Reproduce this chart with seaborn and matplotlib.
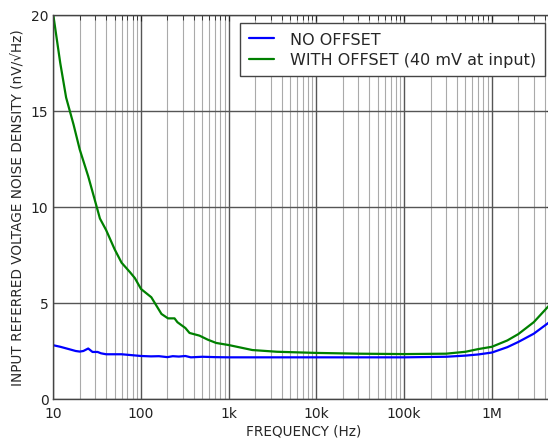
import numpy as np
import pandas as pd
import matplotlib
matplotlib.use('Agg')
import matplotlib.pyplot as plt
import seaborn as sns
from matplotlib.ticker import FixedLocator, LogLocator, NullFormatter

# Daten
freq_no_offset = [10, 12, 15, 18, 20, 22, 25, 28, 32, 35, 40, 50, 60, 80, 100, 130, 160,
                  200, 230, 270, 320, 370, 500, 700, 1e3, 3e3, 1e4, 3e4, 1e5, 3e5, 5e5,
                  7e5, 1e6, 1.5e6, 2e6, 3e6, 5e6]
noise_no_offset = [2.8, 2.72, 2.6, 2.5, 2.47, 2.5, 2.63, 2.45, 2.45, 2.38, 2.33, 2.33, 2.33,
                   2.28, 2.24, 2.22, 2.23, 2.18, 2.23, 2.21, 2.24, 2.17, 2.2, 2.18, 2.17,
                   2.17, 2.17, 2.17, 2.17, 2.2, 2.26, 2.32, 2.42, 2.7, 2.97, 3.4, 4.15]

freq_offset = [10, 12, 14, 17, 20, 25, 30, 34, 40, 50, 60, 75, 85, 100, 131, 171, 203, 241,
               260, 288, 320, 357, 464, 577, 718, 1e3, 1.86e3, 3.56e3, 1e4, 3e4, 1e5, 3e5,
               5e5, 7e5, 1e6, 1.5e6, 2e6, 3e6, 5e6]
noise_offset = [20.0, 17.5, 15.7, 14.3, 13.0, 11.6, 10.3, 9.4, 8.8, 7.8, 7.1, 6.6, 6.3, 5.73,
                5.3, 4.43, 4.2, 4.2, 4.0, 3.85, 3.7, 3.44, 3.3, 3.09, 2.92, 2.81, 2.55, 2.46,
                2.4, 2.36, 2.34, 2.36, 2.46, 2.6, 2.72, 3.05, 3.38, 4.0, 5.1]

labels = ['NO OFFSET', 'WITH OFFSET (40 mV at input)']

data = pd.concat([
    pd.DataFrame({'freq': freq_no_offset, 'noise': noise_no_offset, 'series': labels[0]}),
    pd.DataFrame({'freq': freq_offset, 'noise': noise_offset, 'series': labels[1]}),
])

sns.set_style('white')
plt.rcParams['font.family'] = ['DejaVu Sans']

fig = plt.figure(figsize=(5.48, 4.39), dpi=100)
# rechte Kante liegt knapp ausserhalb des Bildes (wie im Original)
ax = fig.add_axes([53.3 / 548, 1 - 400 / 439, (553.2 - 53.3) / 548, (400 - 16) / 439])

sns.lineplot(data=data, x='freq', y='noise', hue='series', hue_order=labels,
             palette={labels[0]: '#0000ff', labels[1]: '#008000'}, linewidth=1.6, ax=ax)

ax.set_xscale('log')
ax.set_xlim(10, 5e6)
ax.set_ylim(0, 20)
ax.set_yticks([0, 5, 10, 15, 20])
ax.xaxis.set_major_locator(FixedLocator([10, 100, 1e3, 1e4, 1e5, 1e6]))
ax.set_xticklabels(['10', '100', '1k', '10k', '100k', '1M'])
ax.xaxis.set_minor_locator(LogLocator(base=10, subs=np.arange(2, 10)))
ax.xaxis.set_minor_formatter(NullFormatter())

ax.grid(True, which='major', color='#555555', linewidth=1.0)
ax.grid(True, which='minor', axis='x', color='#aaaaaa', linewidth=0.8)
ax.set_axisbelow(True)
for s in ax.spines.values():
    s.set_color('#444444')
    s.set_linewidth(1.0)
ax.tick_params(which='both', direction='in', top=True, right=True, labelsize=10, colors='#222222')
ax.tick_params(which='major', length=4.5)
ax.tick_params(which='minor', length=3.5)
ax.tick_params(axis='x', which='major', pad=4.8)

ax.set_xlabel('FREQUENCY (Hz)', fontsize=9.8, labelpad=3)
ax.set_ylabel('INPUT REFERRED VOLTAGE NOISE DENSITY (nV/√Hz)', fontsize=9.8)

leg = ax.legend(loc='upper right', fontsize=11.5, fancybox=False, framealpha=1,
                handlelength=1.55, handletextpad=1.05, borderpad=0.55, labelspacing=0.35)
leg.get_frame().set_edgecolor('#444444')
leg.get_frame().set_linewidth(1.0)

fig.savefig('out.png', dpi=100)
